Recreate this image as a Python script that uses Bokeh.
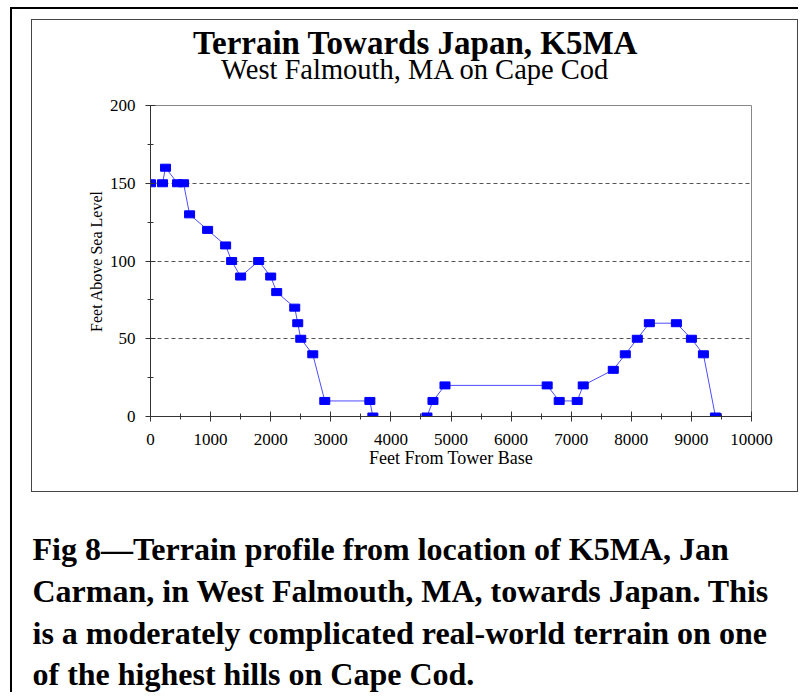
from bokeh.plotting import figure
from bokeh.models import Label, FixedTicker, Range1d
from bokeh.layouts import column
from bokeh.embed import file_html
from bokeh.resources import INLINE

# ---- data ----
distance_ft = [0, 200, 250, 450, 550, 650, 950, 1250, 1350, 1500, 1800, 2000,
               2100, 2400, 2450, 2500, 2700, 2900, 3650, 3700, 4600, 4700,
               4900, 6600, 6800, 7100, 7200, 7700, 7900, 8100, 8300, 8750,
               9000, 9200, 9400]
elevation_ft = [150, 150, 160, 150, 150, 130, 120, 110, 100, 90, 100, 90,
                80, 70, 60, 50, 40, 10, 10, 0, 0, 10,
                20, 20, 10, 10, 20, 30, 40, 50, 60, 60,
                50, 40, 0]
x_ticks = [0, 1000, 2000, 3000, 4000, 5000, 6000, 7000, 8000, 9000, 10000]
y_ticks = [0, 50, 100, 150, 200]
title_text = "Terrain Towards Japan, K5MA"
subtitle_text = "West Falmouth, MA on Cape Cod"
x_label = "Feet From Tower Base"
y_label = "Feet Above Sea Level"
caption_lines = [
    "Fig 8\u2014Terrain profile from location of K5MA, Jan",
    "Carman, in West Falmouth, MA, towards Japan. This",
    "is a moderately complicated real-world terrain on one",
    "of the highest hills on Cape Cod.",
]

FONT = "Liberation Serif"
BOX_W = 765          # inner chart box content width
BOX_X, BOX_Y = 32, 20  # page position of the box content
L_B, R_B = 118, 46     # borders around the plot frame (same for title strip)

# ---- title strip (ranges in page pixels) ----
T_H = 71
tf = figure(width=BOX_W, height=T_H, output_backend="svg", toolbar_location=None,
            x_range=Range1d(BOX_X + L_B, BOX_X + BOX_W - R_B),
            y_range=Range1d(BOX_Y + T_H, BOX_Y),
            x_axis_location=None, y_axis_location=None,
            min_border_left=L_B, min_border_right=R_B,
            min_border_top=0, min_border_bottom=0,
            outline_line_color=None,
            background_fill_color="white", border_fill_color="white")
tf.xgrid.visible = False
tf.ygrid.visible = False
tf.add_layout(Label(x=415, y=53 - 11, text=title_text, text_font=FONT,
                    text_font_size="33px", text_font_style="bold",
                    text_align="center", text_baseline="alphabetic",
                    text_color="black"))
tf.add_layout(Label(x=415, y=79 - 10, text=subtitle_text, text_font=FONT,
                    text_font_size="28.5px", text_align="center",
                    text_baseline="alphabetic", text_color="black"))

# ---- chart ----
p = figure(width=BOX_W, height=400, output_backend="svg", toolbar_location=None,
           x_range=Range1d(0, 10000), y_range=Range1d(0, 200),
           min_border_left=L_B, min_border_right=R_B,
           min_border_top=14, min_border_bottom=75,
           background_fill_color="white", border_fill_color="white")

for ax in (p.xaxis[0], p.yaxis[0]):
    ax.axis_line_color = "#333333"
    ax.major_tick_line_color = "#333333"
    ax.minor_tick_line_color = "#333333"
    ax.major_tick_in = 5
    ax.major_tick_out = 5
    ax.minor_tick_in = 3
    ax.minor_tick_out = 3
    ax.major_label_text_font = FONT
    ax.major_label_text_font_size = "17px"
    ax.major_label_text_color = "black"
    ax.axis_label_text_font = FONT
    ax.axis_label_text_font_style = "normal"
    ax.axis_label_text_color = "black"

p.xaxis.ticker = FixedTicker(ticks=x_ticks, minor_ticks=[v + 500 for v in x_ticks[:-1]])
p.yaxis.ticker = FixedTicker(ticks=y_ticks, minor_ticks=[v + 25 for v in y_ticks[:-1]])
p.xaxis.axis_label = x_label
p.xaxis.axis_label_text_font_size = "18px"
p.xaxis.major_label_standoff = 12
p.xaxis.axis_label_standoff = 0
p.yaxis.axis_label = y_label
p.yaxis.axis_label_text_font_size = "16px"
p.yaxis.major_label_standoff = 10
p.yaxis.axis_label_standoff = 2

p.xgrid.grid_line_color = None
p.ygrid.ticker = FixedTicker(ticks=[50, 100, 150])
p.ygrid.grid_line_color = "#555555"
p.ygrid.grid_line_dash = "4 3"
p.ygrid.grid_line_width = 1

p.outline_line_color = "#888888"
p.outline_line_width = 1

p.line(distance_ft, elevation_ft, line_color="#4d4dff", line_width=1)
p.rect(distance_ft, elevation_ft, width=10, height=7,
       width_units="screen", height_units="screen",
       fill_color="#0000ff", line_color="#0000ff")

# ---- caption (ranges in page pixels) ----
C_W, C_H = 765, 200
C_X, C_Y = 31, 492
cf = figure(width=C_W, height=C_H, output_backend="svg", toolbar_location=None,
            x_range=Range1d(C_X, C_X + C_W), y_range=Range1d(C_Y + C_H, C_Y),
            x_axis_location=None, y_axis_location=None,
            min_border=0, outline_line_color=None,
            background_fill_color="white", border_fill_color="white")
cf.xgrid.visible = False
cf.ygrid.visible = False
for line, b in zip(caption_lines, [559, 601, 643, 684]):
    cf.add_layout(Label(x=32, y=b - 11, text=line, text_font=FONT,
                        text_font_size="32px", text_font_style="bold",
                        text_align="left", text_baseline="alphabetic",
                        text_color="black"))

box = column(tf, p, spacing=0, styles={"border": "1px solid #444444"})
framed = column(box, cf, spacing=0,
                styles={"border-top": "2px solid black",
                        "border-left": "2px solid black",
                        "padding-left": "19px", "padding-top": "10px"})
page = column(framed, spacing=0,
              styles={"padding-left": "10px", "padding-top": "7px"})

open("out.html", "w").write(file_html(page, INLINE))
